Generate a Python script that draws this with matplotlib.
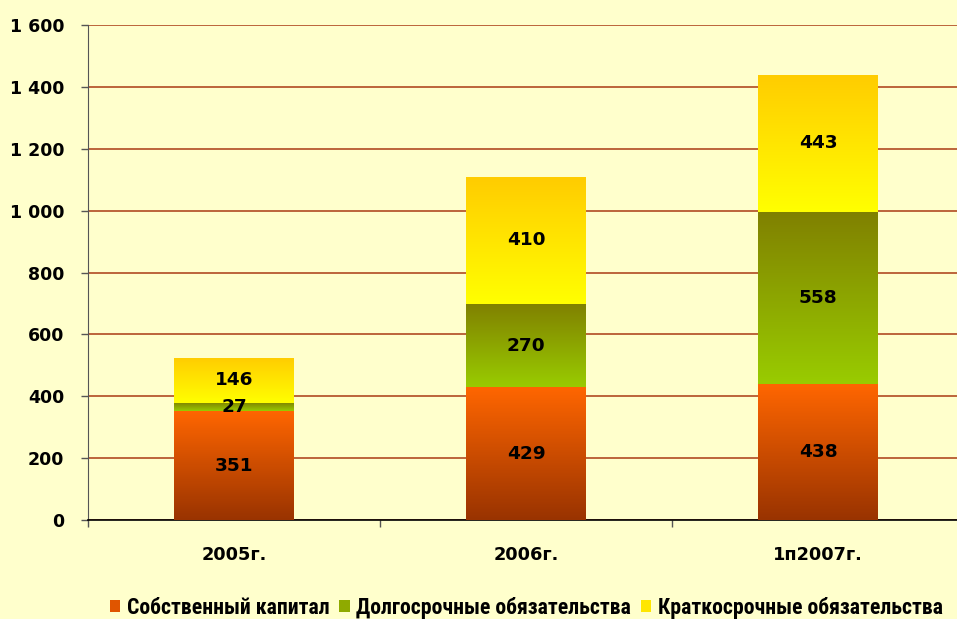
import numpy as np
import matplotlib
matplotlib.use("Agg")
from matplotlib import pyplot as plt
from matplotlib.colors import LinearSegmentedColormap
from matplotlib.patches import Patch
from matplotlib.ticker import FuncFormatter
from matplotlib import font_manager

categories = ["2005г.", "2006г.", "1п2007г."]
equity = [351, 429, 438]
long_term = [27, 270, 558]
short_term = [146, 410, 443]
series_names = ["Собственный капитал", "Долгосрочные обязательства", "Краткосрочные обязательства"]

# (bottom colour, top colour) for each series
grads = [("#993300", "#FF6600"), ("#99CC00", "#808000"), ("#FFFF00", "#FFCC00")]
bg = "#FFFFCC"

# pick a narrow font for the legend if one is around
names = {f.name for f in font_manager.fontManager.ttflist}
narrow = [n for n in ["Liberation Sans Narrow", "DejaVu Sans Condensed", "Roboto Condensed",
                      "Open Sans Condensed", "Noto Sans Condensed"] if n in names]
leg_family = (narrow[:1] or ["DejaVu Sans"]) + ["DejaVu Sans"]
leg_size = 15.7 if narrow else 10.8

fig = plt.figure(figsize=(9.57, 6.19), dpi=100, facecolor=bg)
ax = fig.add_axes([88 / 957, 99 / 619, 876 / 957, 495 / 619], facecolor=bg)

x = np.arange(len(categories))
width = 0.41
bottom = np.zeros(len(categories))
grad_img = np.linspace(0, 1, 256).reshape(-1, 1)

for vals, (c0, c1) in zip([equity, long_term, short_term], grads):
    cmap = LinearSegmentedColormap.from_list("g", [c0, c1])
    bars = ax.bar(x, vals, width, bottom=bottom, color="none", edgecolor="none", zorder=3)
    for b, v in zip(bars, vals):
        x0, y0 = b.get_x(), b.get_y()
        im = ax.imshow(grad_img, cmap=cmap, aspect="auto", origin="lower",
                       extent=[x0, x0 + b.get_width(), y0, y0 + b.get_height()],
                       zorder=3, interpolation="bilinear")
        im.set_clip_path(b)
        ax.text(x0 + b.get_width() / 2, y0 + b.get_height() / 2, str(v),
                ha="center", va="center", fontsize=13.3, fontweight="bold",
                color="black", zorder=5)
    bottom += np.array(vals)

ax.set_xlim(-0.5, 2.5)
ax.set_ylim(0, 1600)
ax.set_yticks(range(0, 1601, 200))
ax.yaxis.set_major_formatter(FuncFormatter(lambda v, p: f"{int(v):,}".replace(",", " ")))
ax.grid(axis="y", color="#B04A22", linewidth=1.2, zorder=1)
ax.set_axisbelow(True)

ax.set_xticks(x)
ax.set_xticklabels(categories, fontsize=12.8, fontweight="bold")
ax.set_xticks([-0.5, 0.5, 1.5, 2.5], minor=True)
ax.tick_params(axis="x", which="major", length=0, pad=19)
ax.tick_params(axis="x", which="minor", length=5, color="#555555", width=1)
ax.tick_params(axis="y", length=5, color="#555555", width=1, pad=12, labelsize=12.5)
for lab in ax.get_yticklabels():
    lab.set_fontweight("bold")

for s in ["top", "right"]:
    ax.spines[s].set_visible(False)
ax.spines["left"].set_color("#555555")
ax.spines["bottom"].set_color("black")
ax.spines["bottom"].set_linewidth(1.2)

handles = [Patch(facecolor="#E05500", edgecolor="none"),
           Patch(facecolor="#8FAA00", edgecolor="none"),
           Patch(facecolor="#FFE600", edgecolor="none")]
fig.legend(handles, series_names, loc="center", bbox_to_anchor=(0.55, 1 - 608 / 619),
           ncol=3, frameon=False, handlelength=0.48, handleheight=0.48,
           handletextpad=0.3, columnspacing=0.45, borderpad=0,
           prop={"family": leg_family, "weight": "bold", "size": leg_size})

fig.savefig("out.png", dpi=100, facecolor=bg)
